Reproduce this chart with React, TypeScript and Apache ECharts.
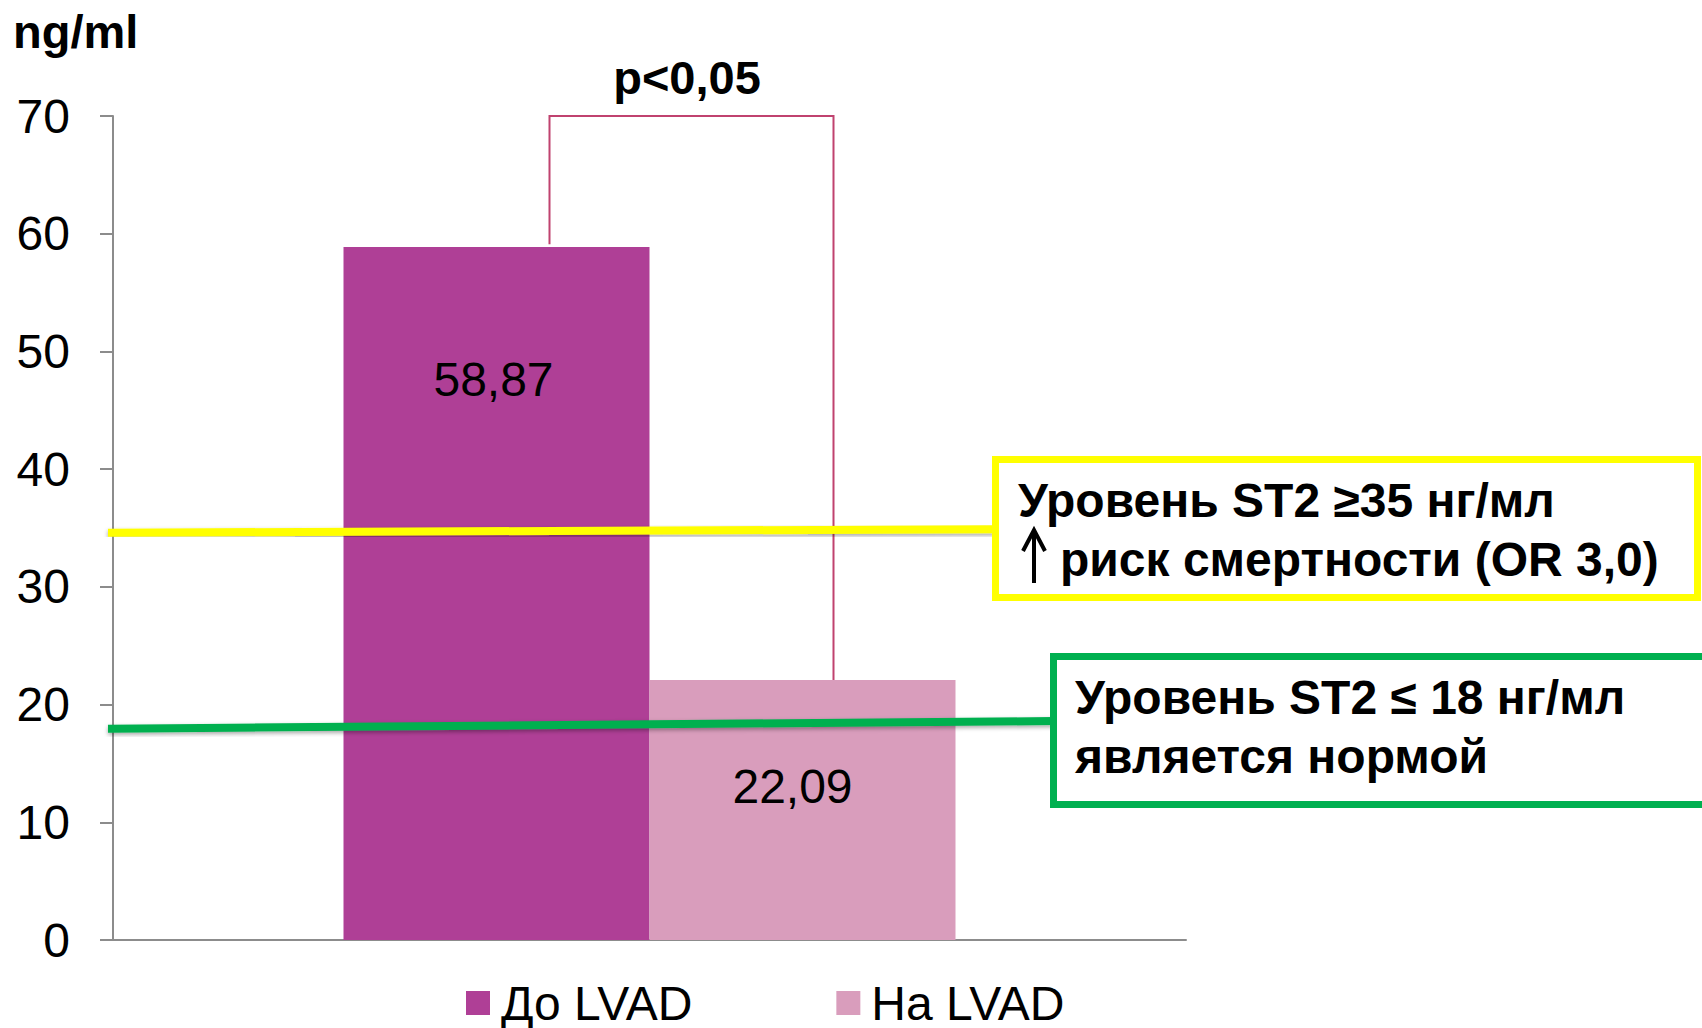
import React, { useEffect, useRef } from 'react';
import * as echarts from 'echarts';

const categories = [''];
const seriesNames = ['До LVAD', 'На LVAD'];
const beforeValues = [58.87];
const onValues = [22.09];
const barColors = ['#AF3F96', '#D99DBC'];
const yMin = 0;
const yMax = 70;
const yInterval = 10;
const yellowLineValues = [34.6, 34.9];
const greenLineValues = [17.95, 18.6];
const bracketTopValue = 70;
const bracketLeftEndValue = 59.1;
const pValueText = 'p<0,05';
const unitText = 'ng/ml';
const yellowBoxLines = ['Уровень ST2 ≥35 нг/мл', 'риск смертности (OR 3,0)'];
const greenBoxLines = ['Уровень ST2 ≤ 18 нг/мл', 'является нормой'];

const FONT = '"Liberation Sans", Arial, sans-serif';

export default function App() {
  const ref = useRef<HTMLDivElement>(null);
  useEffect(() => {
    if (!ref.current) return;
    const chart = echarts.init(ref.current, undefined, { renderer: 'svg' });
    const fmt = (p: any) => String(p.value).replace('.', ',');
    chart.setOption({
      animation: false,
      backgroundColor: '#ffffff',
      grid: { left: 113, right: 516, top: 116, bottom: 88, containLabel: false },
      legend: {
        data: seriesNames,
        left: 466,
        top: 979,
        padding: 0,
        itemWidth: 24,
        itemHeight: 24,
        itemGap: 144,
        icon: 'rect',
        textStyle: { fontSize: 48, lineHeight: 48, color: '#000', fontFamily: FONT, padding: [0, 0, 0, 6] },
      },
      xAxis: {
        type: 'category',
        data: categories,
        axisLine: { lineStyle: { color: '#8C8C8C', width: 2 } },
        axisTick: { show: false },
        axisLabel: { show: false },
      },
      yAxis: {
        type: 'value',
        min: yMin,
        max: yMax,
        interval: yInterval,
        splitLine: { show: false },
        axisLine: { show: true, lineStyle: { color: '#8C8C8C', width: 2 } },
        axisTick: { show: true, length: 13, lineStyle: { color: '#8C8C8C', width: 2 } },
        axisLabel: { fontSize: 48, color: '#000', fontFamily: FONT, margin: 43 },
      },
      series: [
        {
          name: seriesNames[0],
          type: 'bar',
          data: beforeValues,
          barWidth: 306,
          barGap: '0%',
          itemStyle: { color: barColors[0] },
          label: {
            show: true,
            position: 'insideTop',
            distance: 108,
            offset: [-3, 0],
            fontSize: 48,
            lineHeight: 48,
            color: '#000',
            fontFamily: FONT,
            formatter: fmt,
          },
        },
        {
          name: seriesNames[1],
          type: 'bar',
          data: onValues,
          barWidth: 306,
          barGap: '0%',
          itemStyle: { color: barColors[1] },
          label: {
            show: true,
            position: 'insideTop',
            distance: 83,
            offset: [-10, 0],
            fontSize: 48,
            lineHeight: 48,
            color: '#000',
            fontFamily: FONT,
            formatter: fmt,
          },
        },
      ],
    });

    const yPx = (v: number) => chart.convertToPixel({ yAxisIndex: 0 }, v) as number;
    const xc = chart.convertToPixel({ xAxisIndex: 0 }, 0) as number;
    const bracketL = xc - 100;
    const bracketR = xc + 184;
    const lineShadow = { shadowBlur: 4, shadowColor: 'rgba(0,0,0,0.35)', shadowOffsetY: 2 };
    const boxFont = `bold 48px ${FONT}`;

    chart.setOption({
      graphic: [
        {
          type: 'text', z: 20, left: 13, top: 8,
          style: { text: unitText, font: `bold 47px ${FONT}`, fill: '#000' },
        },
        {
          type: 'text', z: 20, x: 687, y: 77,
          style: { text: pValueText, font: `bold 47px ${FONT}`, fill: '#000', align: 'center', verticalAlign: 'middle' },
        },
        {
          type: 'polyline', z: 15,
          shape: {
            points: [
              [bracketL, yPx(bracketLeftEndValue)],
              [bracketL, yPx(bracketTopValue)],
              [bracketR, yPx(bracketTopValue)],
              [bracketR, yPx(onValues[0])],
            ],
          },
          style: { stroke: '#C0426F', lineWidth: 2, fill: null },
        },
        {
          type: 'line', z: 16,
          shape: { x1: 108, y1: yPx(yellowLineValues[0]), x2: 995, y2: yPx(yellowLineValues[1]) },
          style: { stroke: '#FFFF00', lineWidth: 8, ...lineShadow },
        },
        {
          type: 'line', z: 16,
          shape: { x1: 108, y1: yPx(greenLineValues[0]), x2: 1054, y2: yPx(greenLineValues[1]) },
          style: { stroke: '#00B050', lineWidth: 8, ...lineShadow },
        },
        {
          type: 'rect', z: 17,
          shape: { x: 995.5, y: 459.5, width: 702, height: 138 },
          style: { fill: '#fff', stroke: '#FFFF00', lineWidth: 7 },
        },
        {
          type: 'rect', z: 17,
          shape: { x: 1053.5, y: 656.5, width: 700, height: 148 },
          style: { fill: '#fff', stroke: '#00B050', lineWidth: 7 },
        },
        {
          type: 'text', z: 20, x: 1018, y: 500,
          style: { text: yellowBoxLines[0], font: boxFont, fill: '#000', verticalAlign: 'middle' },
        },
        // up arrow before the second line
        {
          type: 'line', z: 20,
          shape: { x1: 1034, y1: 531, x2: 1034, y2: 583 },
          style: { stroke: '#000', lineWidth: 4 },
        },
        {
          type: 'polyline', z: 20,
          shape: { points: [[1023, 551], [1034, 530], [1045, 551]] },
          style: { stroke: '#000', lineWidth: 4, fill: null, lineJoin: 'miter' },
        },
        {
          type: 'text', z: 20, x: 1060, y: 559,
          style: { text: yellowBoxLines[1], font: boxFont, fill: '#000', verticalAlign: 'middle' },
        },
        {
          type: 'text', z: 20, x: 1075, y: 697,
          style: { text: greenBoxLines[0], font: boxFont, fill: '#000', verticalAlign: 'middle' },
        },
        {
          type: 'text', z: 20, x: 1075, y: 756,
          style: { text: greenBoxLines[1], font: boxFont, fill: '#000', verticalAlign: 'middle' },
        },
      ],
    });

    return () => chart.dispose();
  }, []);

  return (
    <div
      ref={ref}
      style={{ position: 'fixed', left: 0, top: 0, width: 1702, height: 1028, background: '#fff' }}
    />
  );
}
